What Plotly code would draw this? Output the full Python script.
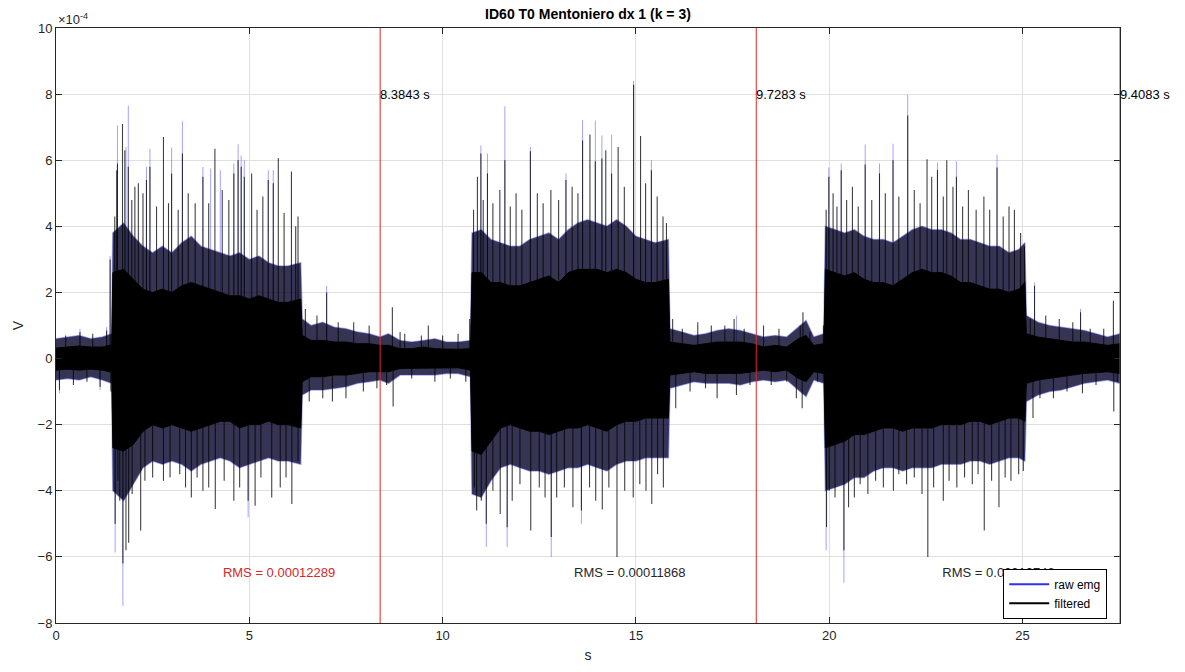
import plotly.graph_objects as go

# ---------------- data (amplitudes in units of 1e-4 V, time in s) ----------------
env_t = [0, 0.3, 0.6, 0.9, 1.2, 1.44,
         1.47, 1.75, 2.0, 2.25, 2.5, 2.75, 3.0, 3.25, 3.5, 3.75, 4.0, 4.25, 4.5, 4.75, 5.0, 5.25, 5.5, 5.75, 6.0, 6.33,
         6.37, 6.6, 6.9, 7.2, 7.5, 7.8, 8.1, 8.38,
         8.6, 8.9, 9.2, 9.5, 9.8, 10.1, 10.4, 10.72,
         10.76, 11.0, 11.25, 11.5, 11.75, 12.0, 12.25, 12.5, 12.75, 13.0, 13.25, 13.5, 13.75, 14.0, 14.25, 14.5, 14.75, 15.0, 15.25, 15.5, 15.84,
         15.88, 16.2, 16.5, 16.8, 17.1, 17.4, 17.7, 18.0,
         18.3, 18.6, 18.9, 19.2, 19.4, 19.6, 19.86,
         19.9, 20.15, 20.4, 20.65, 20.9, 21.15, 21.4, 21.65, 21.9, 22.15, 22.4, 22.65, 22.9, 23.15, 23.4, 23.65, 23.9, 24.15, 24.4, 24.65, 24.9, 25.06,
         25.1, 25.4, 25.7, 26.0, 26.3, 26.6, 26.9, 27.2, 27.52]

# solid (fully dense) core of the filtered trace
core_hi = [0.32, 0.35, 0.38, 0.35, 0.35, 0.42,
           2.6, 2.7, 2.4, 2.1, 2.0, 2.1, 2.0, 2.2, 2.3, 2.2, 2.1, 2.0, 1.9, 1.9, 1.8, 1.9, 1.8, 1.7, 1.7, 1.8,
           0.7, 0.55, 0.55, 0.5, 0.5, 0.45, 0.45, 0.4,
           0.4, 0.3, 0.3, 0.35, 0.3, 0.28, 0.28, 0.3,
           2.6, 2.6, 2.3, 2.3, 2.2, 2.2, 2.3, 2.4, 2.5, 2.3, 2.6, 2.7, 2.7, 2.7, 2.6, 2.7, 2.6, 2.4, 2.3, 2.3, 2.4,
           0.5, 0.45, 0.4, 0.45, 0.5, 0.5, 0.5, 0.45,
           0.35, 0.4, 0.35, 0.6, 0.7, 0.4, 0.45,
           2.7, 2.6, 2.5, 2.6, 2.4, 2.3, 2.3, 2.2, 2.4, 2.6, 2.7, 2.6, 2.6, 2.5, 2.3, 2.3, 2.2, 2.1, 2.1, 2.0, 2.1, 2.3,
           0.75, 0.65, 0.6, 0.55, 0.5, 0.5, 0.45, 0.4, 0.45]
core_lo = [-0.35, -0.32, -0.35, -0.32, -0.35, -0.42,
           -2.7, -2.8, -2.6, -2.2, -2.0, -2.1, -2.0, -2.1, -2.2, -2.1, -2.0, -1.9, -1.9, -2.1, -2.0, -2.0, -1.9, -2.0, -2.0, -2.1,
           -0.7, -0.55, -0.55, -0.5, -0.5, -0.45, -0.4, -0.4,
           -0.4, -0.3, -0.3, -0.3, -0.3, -0.28, -0.28, -0.35,
           -2.8, -2.9, -2.5, -2.1, -2.0, -2.1, -2.2, -2.2, -2.3, -2.2, -2.1, -2.1, -2.0, -2.1, -2.2, -2.0, -1.9, -1.9, -1.8, -1.8, -1.8,
           -0.5, -0.45, -0.4, -0.45, -0.45, -0.45, -0.45, -0.4,
           -0.35, -0.4, -0.35, -0.6, -0.7, -0.4, -0.45,
           -2.7, -2.6, -2.5, -2.3, -2.3, -2.2, -2.1, -2.1, -2.2, -2.1, -2.1, -2.1, -2.0, -2.0, -2.0, -1.9, -1.9, -2.0, -1.9, -1.8, -1.8, -1.9,
           -0.75, -0.65, -0.6, -0.55, -0.5, -0.45, -0.42, -0.4, -0.45]

# outer, partly dense band of the filtered trace
band_hi = [0.6, 0.65, 0.7, 0.6, 0.65, 0.75,
           3.8, 4.1, 3.7, 3.4, 3.2, 3.4, 3.2, 3.5, 3.7, 3.4, 3.3, 3.2, 3.1, 3.2, 3.0, 3.1, 2.9, 2.8, 2.8, 2.9,
           1.2, 1.0, 1.1, 0.95, 0.9, 0.8, 0.75, 0.65,
           0.75, 0.55, 0.5, 0.55, 0.6, 0.5, 0.5, 0.55,
           3.8, 3.9, 3.6, 3.5, 3.4, 3.4, 3.6, 3.7, 3.8, 3.6, 3.9, 4.1, 4.2, 4.1, 4.0, 4.2, 4.0, 3.7, 3.6, 3.5, 3.6,
           0.9, 0.8, 0.7, 0.75, 0.85, 0.9, 0.85, 0.75,
           0.65, 0.7, 0.65, 0.95, 1.15, 0.65, 0.75,
           4.0, 3.9, 3.8, 3.9, 3.7, 3.6, 3.6, 3.5, 3.7, 3.9, 4.0, 3.9, 3.9, 3.8, 3.6, 3.6, 3.5, 3.4, 3.4, 3.2, 3.3, 3.5,
           1.3, 1.1, 1.0, 0.95, 0.9, 0.85, 0.75, 0.65, 0.75]
band_lo = [-0.65, -0.6, -0.65, -0.55, -0.65, -0.75,
           -4.0, -4.3, -3.8, -3.3, -3.1, -3.2, -3.1, -3.2, -3.4, -3.2, -3.1, -3.0, -3.1, -3.3, -3.2, -3.1, -3.0, -3.1, -3.1, -3.2,
           -1.1, -0.95, -0.95, -0.9, -0.85, -0.75, -0.7, -0.65,
           -0.75, -0.5, -0.5, -0.5, -0.5, -0.45, -0.45, -0.55,
           -4.1, -4.2, -3.7, -3.3, -3.2, -3.3, -3.4, -3.4, -3.5, -3.4, -3.3, -3.3, -3.2, -3.3, -3.4, -3.2, -3.1, -3.1, -3.0, -3.0, -3.0,
           -0.9, -0.8, -0.7, -0.75, -0.75, -0.75, -0.8, -0.7,
           -0.65, -0.7, -0.65, -0.95, -1.15, -0.65, -0.75,
           -4.0, -3.9, -3.8, -3.6, -3.6, -3.4, -3.3, -3.3, -3.4, -3.3, -3.3, -3.3, -3.2, -3.2, -3.2, -3.1, -3.1, -3.2, -3.1, -3.0, -3.0, -3.1,
           -1.3, -1.1, -1.0, -0.95, -0.85, -0.75, -0.7, -0.65, -0.75]

# filtered spikes (peak values)
filt_spike_t = [0.09, 0.25, 0.45, 0.62, 0.8, 0.95, 1.14, 1.31, 1.4, 1.42,
                1.52, 1.57, 1.59, 1.72, 1.78, 1.87, 1.96, 2.04, 2.13, 2.25, 2.34, 2.43, 2.6, 2.78, 2.91, 2.99, 3.16, 3.27, 3.42, 3.6, 3.8, 3.95, 4.11, 4.3, 4.47, 4.6, 4.71, 4.79, 4.87, 5.06, 5.2, 5.35, 5.49, 5.62, 5.75, 5.9, 6.09, 6.2, 6.26,
                1.53, 1.6, 1.65, 1.73, 1.81, 1.88, 1.97, 2.19, 2.3, 2.5, 2.78, 2.95, 3.2, 3.35, 3.5, 3.65, 3.8, 3.95, 4.12, 4.35, 4.6, 4.75, 4.97, 5.15, 5.3, 5.58, 5.8, 5.95, 6.1, 6.26,
                6.45, 6.55, 6.75, 6.9, 7.0, 7.15, 7.3, 7.5, 7.7, 7.95, 8.1, 8.3,
                8.55, 8.7, 8.72, 8.9, 9.02, 9.2, 9.45, 9.63, 9.8, 10.0, 10.2, 10.4, 10.6, 10.7,
                10.8, 10.9, 10.99, 11.05, 11.16, 11.3, 11.48, 11.61, 11.75, 11.9, 12.05, 12.27, 12.45, 12.6, 12.8, 13.0, 13.19, 13.35, 13.5, 13.62, 13.81, 13.95, 14.12, 14.22, 14.37, 14.54, 14.7, 14.94, 15.12, 15.25, 15.4, 15.55, 15.7, 15.79,
                10.82, 10.88, 11.0, 11.13, 11.3, 11.49, 11.67, 11.8, 12.0, 12.28, 12.5, 12.65, 12.81, 12.95, 13.15, 13.37, 13.59, 13.8, 13.96, 14.13, 14.3, 14.51, 14.71, 14.93, 15.1, 15.26, 15.41, 15.56, 15.71,
                15.95, 16.03, 16.2, 16.4, 16.6, 16.8, 16.95, 17.1, 17.3, 17.54, 17.6, 17.8, 17.95,
                18.3, 18.5, 18.7, 18.9, 19.15, 19.25, 19.32, 19.3, 19.5, 19.7, 19.85,
                19.92, 19.99, 20.1, 20.2, 20.31, 20.45, 20.6, 20.75, 20.93, 21.1, 21.3, 21.45, 21.65, 21.8, 22.03, 22.2, 22.35, 22.53, 22.65, 22.8, 22.95, 23.04, 23.2, 23.29, 23.45, 23.6, 23.8, 24.0, 24.15, 24.34, 24.5, 24.65, 24.79, 24.95, 25.05,
                19.93, 20.0, 20.15, 20.38, 20.5, 20.65, 20.8, 21.0, 21.2, 21.4, 21.66, 21.8, 22.0, 22.2, 22.4, 22.55, 22.7, 22.95, 23.1, 23.3, 23.5, 23.7, 23.85, 24.01, 24.2, 24.39, 24.55, 24.7, 24.9, 25.02,
                25.2, 25.31, 25.27, 25.45, 25.6, 25.8, 25.95, 26.15, 26.3, 26.5, 26.55, 26.75, 26.9, 27.1, 27.35, 27.36, 27.45]
filt_spike_v = [-0.95, 0.7, -0.8, 0.8, -0.7, 0.75, -0.85, 0.85, 3.0, -1.0,
                4.3, 5.7, 5.9, 7.1, 6.3, 5.8, 4.8, 5.2, 5.3, 5.0, 5.4, 5.8, 4.6, 6.7, 4.7, 5.6, 4.5, 6.2, 5.0, 4.7, 5.5, 4.7, 6.35, 5.1, 4.8, 5.6, 6.0, 5.8, 5.5, 5.6, 4.5, 4.9, 5.4, 5.3, 6.07, 4.4, 5.66, 4.0, 4.3,
                -5.0, -3.7, -4.3, -6.2, -5.8, -5.57, -4.1, -5.2, -3.7, -3.6, -3.7, -3.6, -3.5, -3.9, -4.2, -3.6, -4.0, -3.9, -4.55, -3.7, -4.3, -3.9, -4.3, -4.45, -3.6, -4.2, -3.9, -3.6, -4.4, -3.1,
                1.5, -1.3, 1.3, -1.2, 2.0, -1.3, 1.1, -1.2, 1.1, -1.0, 1.0, -0.9,
                -0.8, 1.55, -1.45, 0.8, 0.75, -0.6, 0.7, 1.0, -0.7, 0.7, -0.6, 0.75, -0.7, 1.2,
                4.5, 5.5, 6.2, 4.8, 5.6, 4.7, 5.1, 6.0, 4.6, 5.0, 4.5, 6.27, 5.0, 4.7, 5.1, 4.8, 5.4, 5.2, 5.0, 6.6, 6.78, 5.97, 6.05, 6.3, 5.6, 6.4, 5.2, 8.28, 6.73, 5.3, 5.7, 4.9, 4.3, 4.1,
                -3.9, -4.6, -4.3, -5.0, -4.0, -4.7, -5.1, -4.3, -3.8, -5.2, -3.9, -4.2, -5.4, -4.2, -3.9, -4.5, -4.6, -3.9, -4.3, -4.57, -3.9, -6.0, -4.0, -4.2, -3.8, -4.0, -4.4, -3.5, -3.9,
                1.2, -1.5, 0.9, -1.0, 1.1, -0.9, 1.0, -1.2, 1.0, 1.2, -1.1, 0.9, -0.8,
                1.0, -0.8, 0.9, -0.7, -1.2, 1.0, 1.4, -1.5, 0.8, -0.7, 1.0,
                4.5, 5.5, 5.0, 4.6, 5.7, 4.8, 5.2, 4.6, 5.87, 4.8, 5.6, 5.0, 6.0, 4.9, 7.35, 5.1, 4.7, 6.03, 5.5, 5.7, 4.9, 6.0, 5.2, 5.5, 4.6, 5.1, 4.5, 4.9, 4.5, 5.78, 4.3, 4.6, 4.5, 3.8, 3.4,
                -5.1, -4.0, -4.2, -5.8, -4.5, -4.2, -3.8, -4.1, -3.7, -3.9, -4.0, -3.5, -3.8, -3.6, -4.1, -6.0, -3.9, -4.3, -3.7, -3.9, -3.6, -3.8, -3.5, -5.2, -3.7, -4.5, -3.6, -3.7, -3.5, -3.4,
                1.2, 2.2, -1.8, -1.2, 1.3, -1.2, 1.2, -1.0, 1.1, 1.4, -1.05, 0.9, -0.8, 0.9, 1.75, -1.6, -0.7]

# raw emg spike tips that reach beyond the filtered trace
raw_spike_t = [0.09, 0.62, 1.14, 1.31, 1.4,
               1.53, 1.59, 1.73, 1.81, 1.87, 2.34, 2.43, 2.99, 3.27, 3.8, 4.0, 4.25, 4.6, 4.71, 4.79, 4.87, 4.97, 5.49, 5.62, 7.0,
               10.99, 11.13, 11.16, 11.61, 11.67, 12.27, 12.81, 13.19, 13.59, 13.62, 13.95, 14.12, 14.37, 14.94, 15.4,
               17.6, 19.92, 19.99, 20.31, 20.38, 20.93, 21.3, 21.65, 22.03, 22.8, 23.29, 24.34, 25.31, 26.5]
raw_spike_v = [-1.05, 0.9, -0.95, 0.95, 3.1,
               -5.87, 7.05, -7.48, 6.4, 7.65, 5.8, 6.35, 6.38, 7.18, 5.8, 5.75, 5.7, 5.9, 6.48, 6.14, 6.0, -4.8, 5.7, 5.7, 2.2,
               6.45, -5.7, 6.2, 7.63, -5.7, 6.4, -6.0, 5.6, -5.0, 7.21, 7.2, 6.75, 6.77, 8.4, 6.0,
               1.3, -5.8, 5.78, 5.9, -6.78, 6.48, 5.9, 6.5, 7.98, 5.93, 5.97, 6.17, 2.3, 1.5]

# cycle boundaries and annotations
cut_t = [8.3843, 18.1126, 27.5209]
cut_labels = ["8.3843 s", "9.7283 s", "9.4083 s"]
rms_t = [5.77, 14.84, 24.38]
rms_y = [-6.5, -6.5, -6.5]
rms_labels = ["RMS = 0.00012289", "RMS = 0.00011868", "RMS = 0.00010748"]
rms_colors = ["rgb(217,38,38)", "rgb(38,38,38)", "rgb(38,38,38)"]
x_ticks = [0, 5, 10, 15, 20, 25]
y_ticks = [-8, -6, -4, -2, 0, 2, 4, 6, 8, 10]

FONT = "Liberation Sans, Arial, sans-serif"


def spikes(ts, vs):
    xs, ys = [], []
    for t, v in zip(ts, vs):
        xs += [t, t, None]
        ys += [0, v, None]
    return xs, ys


def band(ts, hi, lo):
    return ts + ts[::-1], hi + lo[::-1]


fig = go.Figure()

# raw emg (blue) underneath
rx, ry = spikes(raw_spike_t, raw_spike_v)
fig.add_trace(go.Scatter(x=rx, y=ry, mode="lines", line=dict(color="rgba(50,50,255,0.45)", width=1),
                         showlegend=False, hoverinfo="skip"))
bx, by = band(env_t, band_hi, band_lo)
fig.add_trace(go.Scatter(x=bx, y=by, mode="lines", fill="toself",
                         fillcolor="rgba(8,8,45,0.82)", line=dict(color="rgba(60,60,200,0.4)", width=1.5),
                         showlegend=False, hoverinfo="skip"))

# filtered (black)
fx, fy = spikes(filt_spike_t, filt_spike_v)
fig.add_trace(go.Scatter(x=fx, y=fy, mode="lines", line=dict(color="rgba(0,0,0,0.75)", width=1.1),
                         showlegend=False, hoverinfo="skip"))
cx, cy = band(env_t, core_hi, core_lo)
fig.add_trace(go.Scatter(x=cx, y=cy, mode="lines", fill="toself",
                         fillcolor="rgb(0,0,0)", line=dict(color="rgba(0,0,0,0.9)", width=1),
                         showlegend=False, hoverinfo="skip"))

# RMS labels (drawn in the plot so the legend box covers them, as in the original)
for t, yv, lab, c in zip(rms_t, rms_y, rms_labels, rms_colors):
    fig.add_trace(go.Scatter(x=[t], y=[yv], mode="text", text=[lab], textposition="middle center",
                             textfont=dict(family=FONT, size=13, color=c), showlegend=False, hoverinfo="skip"))

# legend entries
fig.add_trace(go.Scatter(x=[None], y=[None], mode="lines", name="raw emg",
                         line=dict(color="rgb(50,50,230)", width=2)))
fig.add_trace(go.Scatter(x=[None], y=[None], mode="lines", name="filtered",
                         line=dict(color="black", width=2)))

shapes = []
annotations = []
for t, lab in zip(cut_t, cut_labels):
    shapes.append(dict(type="line", xref="x", yref="paper", x0=t, x1=t, y0=0, y1=1,
                       line=dict(color="rgb(220,40,40)", width=1)))
    annotations.append(dict(x=t, y=8, xref="x", yref="y", text=lab, showarrow=False,
                            xanchor="left", yanchor="middle", xshift=-2,
                            font=dict(family=FONT, size=13, color="black")))
annotations.append(dict(x=0, y=1, xref="paper", yref="paper", text="×10<sup>-4</sup>", showarrow=False,
                        xanchor="left", yanchor="bottom", yshift=-1,
                        font=dict(family=FONT, size=13, color="rgb(38,38,38)")))

fig.update_layout(
    width=1185, height=672,
    margin=dict(l=56, r=65, t=28, b=46),
    paper_bgcolor="white", plot_bgcolor="white",
    title=dict(text="<b>ID60 T0 Mentoniero dx 1 (k = 3)</b>", x=(56 + 1120) / 2 / 1185, xanchor="center",
               y=1 - 14 / 672, yanchor="middle", font=dict(family=FONT, size=14, color="black")),
    font=dict(family=FONT, size=13, color="rgb(38,38,38)"),
    shapes=shapes,
    annotations=annotations,
    showlegend=True,
    legend=dict(x=0.988, y=0.007, xanchor="right", yanchor="bottom", bgcolor="white",
                bordercolor="black", borderwidth=1, font=dict(family=FONT, size=12, color="black"),
                tracegroupgap=0, itemwidth=40),
)
fig.update_xaxes(range=[0, 27.5209], tickvals=x_ticks, ticks="inside", ticklen=6, tickcolor="rgb(38,38,38)",
                 showline=True, linecolor="rgb(38,38,38)", linewidth=1, mirror="allticks",
                 showgrid=True, gridcolor="rgb(223,223,223)", zeroline=False,
                 title=dict(text="s", standoff=8, font=dict(size=14)))
fig.update_yaxes(range=[-8, 10], tickvals=y_ticks, ticks="inside", ticklen=6, tickcolor="rgb(38,38,38)",
                 showline=True, linecolor="rgb(38,38,38)", linewidth=1, mirror="allticks",
                 showgrid=True, gridcolor="rgb(223,223,223)", zeroline=False,
                 title=dict(text="V", standoff=10, font=dict(size=14)))

fig.write_html("out.html")
